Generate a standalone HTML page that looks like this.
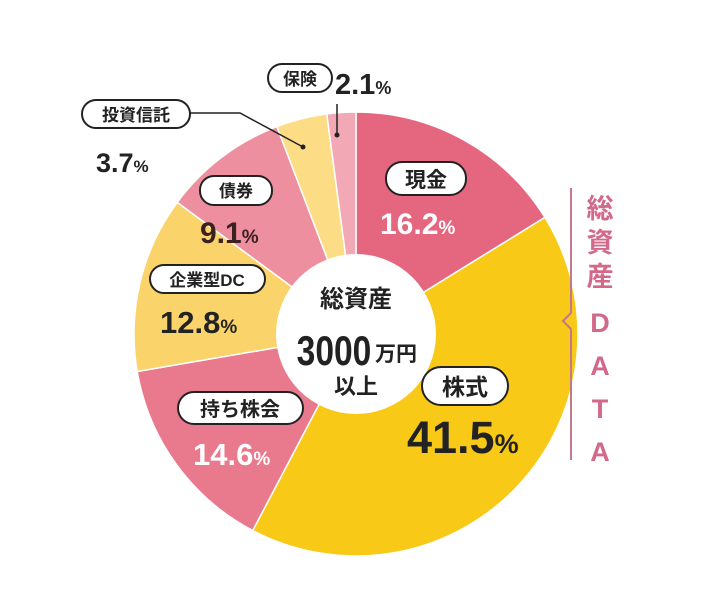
<!DOCTYPE html><html><head><meta charset="utf-8"><style>
html,body{margin:0;padding:0;background:#fff;width:720px;height:613px;overflow:hidden}
svg text{font-family:"Liberation Sans","Noto Sans CJK JP",sans-serif}
</style></head><body>
<svg id="s" width="720" height="613" viewBox="0 0 720 613" xmlns="http://www.w3.org/2000/svg">
<g id="pie"></g>
<circle cx="356" cy="334" r="80" fill="#fff"/>
<!-- leader lines -->
<polyline points="190,113 240,113 303,147" fill="none" stroke="#222" stroke-width="1.5"/>
<circle cx="303" cy="147" r="2.5" fill="#222"/>
<line x1="337" y1="104" x2="337" y2="135" stroke="#222" stroke-width="1.5"/>
<circle cx="337" cy="135" r="2.5" fill="#222"/>
<!-- bracket -->
<polyline points="571,188 571,313 563,321 571,329 571,460" fill="none" stroke="#c07a8c" stroke-width="2"/>
<g fill="#d3698a" font-weight="bold" font-size="27" text-anchor="middle">
<text x="600" y="218">総</text><text x="600" y="252">資</text><text x="600" y="286">産</text>
<text x="600" y="332">D</text><text x="600" y="375">A</text><text x="600" y="418">T</text><text x="600" y="461">A</text>
</g>
<!-- pills -->
<g fill="#fff" stroke="#222" stroke-width="2">
<rect x="268" y="64" width="64" height="28" rx="14"/>
<rect x="82" y="100" width="108" height="28" rx="14"/>
<rect x="200" y="176" width="72" height="29" rx="14"/>
<rect x="386" y="162" width="80" height="33" rx="16"/>
<rect x="150" y="265" width="115" height="28" rx="14"/>
<rect x="178" y="392" width="125" height="32" rx="16"/>
<rect x="422" y="367" width="86" height="38" rx="19"/>
</g>
<g fill="#222" font-size="17" font-weight="bold" text-anchor="middle">
<text x="300" y="85">保険</text>
<text x="136" y="121">投資信託</text>
<text x="236" y="197">債券</text>
<text x="426" y="187" font-size="21">現金</text>
<text x="207" y="286">企業型DC</text>
<text x="240" y="416" font-size="20">持ち株会</text>
<text x="465" y="395" font-size="23">株式</text>
</g>
<g font-weight="bold">
<text x="335" y="94" font-size="29" fill="#222">2.1<tspan font-size="18">%</tspan></text>
<text x="96" y="172" font-size="27" fill="#222">3.7<tspan font-size="17">%</tspan></text>
<text x="200" y="243" font-size="30" fill="#3a2020">9.1<tspan font-size="19">%</tspan></text>
<text x="380" y="234" font-size="30" fill="#fff">16.2<tspan font-size="19">%</tspan></text>
<text x="160" y="333" font-size="31" fill="#222">12.8<tspan font-size="19">%</tspan></text>
<text x="193" y="465" font-size="31" fill="#fff">14.6<tspan font-size="19">%</tspan></text>
<text x="407" y="453" font-size="45" fill="#222">41.5<tspan font-size="27">%</tspan></text>
</g>
<g fill="#222" text-anchor="middle">
<text x="356" y="307" font-size="24" font-weight="bold">総資産</text>
<text x="334" y="365" font-size="42" font-weight="bold" transform="translate(334 0) scale(0.8 1) translate(-334 0)">3000</text>
<text x="396" y="361" font-size="21" font-weight="bold">万円</text>
<text x="356" y="394" font-size="22" font-weight="bold">以上</text>
</g>
</svg>
<script>
var d=[[16.2,"#e4677f"],[41.5,"#f8c916"],[14.6,"#e9798c"],[12.8,"#fad46a"],[9.1,"#ee8fa0"],[3.7,"#fcdd86"],[2.1,"#f3a9b5"]];
var cx=356,cy=334,R=222,a=0,g=document.getElementById("pie"),h="";
d.forEach(function(e){var a0=a,a1=a+e[0]/100*2*Math.PI;a=a1;
var x0=cx+R*Math.sin(a0),y0=cy-R*Math.cos(a0),x1=cx+R*Math.sin(a1),y1=cy-R*Math.cos(a1);
h+='<path d="M'+cx+','+cy+'L'+x0+','+y0+'A'+R+','+R+' 0 '+((a1-a0)>Math.PI?1:0)+' 1 '+x1+','+y1+'Z" fill="'+e[1]+'" stroke="#fff" stroke-width="1.5"/>';});
g.innerHTML=h;
</script>
</body></html>
